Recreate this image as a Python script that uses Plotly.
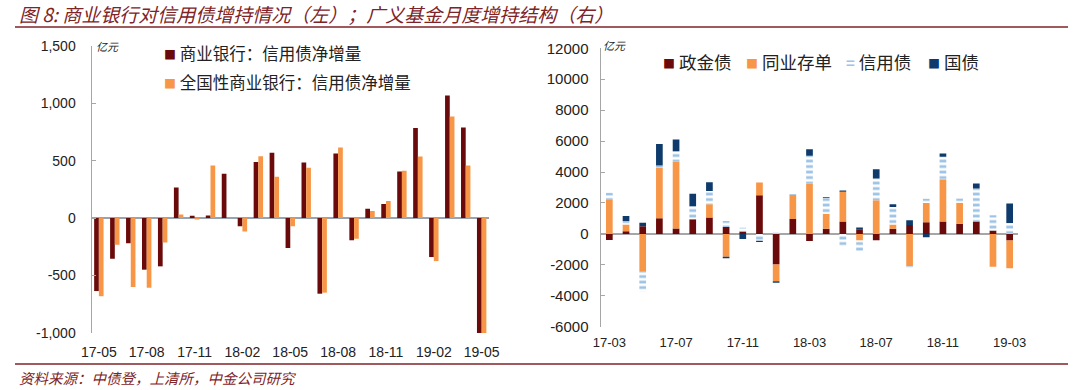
import plotly.graph_objects as go

W, H = 1080, 390

# ---------------- data: left chart (亿元) ----------------
left_months = ["17-05", "17-06", "17-07", "17-08", "17-09", "17-10", "17-11", "17-12",
               "18-01", "18-02", "18-03", "18-04", "18-05", "18-06", "18-07", "18-08",
               "18-09", "18-10", "18-11", "18-12", "19-01", "19-02", "19-03", "19-04", "19-05"]
left_tick_labels = ["17-05", "17-08", "17-11", "18-02", "18-05", "18-08", "18-11", "19-02", "19-05"]
bank_credit_net = [-635, -354, -220, -449, -420, 267, 20, 23, 386, -72, 487, 568, -260,
                   484, -658, 562, -194, 81, 122, 406, 783, -339, 1067, 788, -1030]
national_bank_credit_net = [-680, -232, -600, -606, -212, 32, -12, 458, 0, -116, 539, 359, -72,
                            438, -649, 614, -180, 61, 148, 412, 536, -374, 884, 458, -1020]
left_y_vals = [-1000, -500, 0, 500, 1000, 1500]
left_y_text = ["-1,000", "-500", "0", "500", "1,000", "1,500"]

# ---------------- data: right chart (亿元) ----------------
right_months = ["17-03", "17-04", "17-05", "17-06", "17-07", "17-08", "17-09", "17-10",
                "17-11", "17-12", "18-01", "18-02", "18-03", "18-04", "18-05", "18-06",
                "18-07", "18-08", "18-09", "18-10", "18-11", "18-12", "19-01", "19-02", "19-03"]
right_tick_labels = ["17-03", "17-07", "17-11", "18-03", "18-07", "18-11", "19-03"]
policy_bank_bonds = [-390, 170, 500, 1010, 345, 950, 1060, 450, 150, 2500, -1980, 970, -455,
                     325, 800, 300, -410, 325, 580, 755, 800, 650, 800, 215, -430]
ncd = [2244, 430, -2400, 3260, 4315, 0, 860, -1470, 0, 820, -1085, 1560, 3260,
       970, 1920, -430, 2180, 280, -2090, 1250, 2740, 1360, 0, -2120, -1790]
credit_bonds = [410, 240, -1300, 150, 690, 840, 860, 390, 250, -450, 70, 50, 1790,
                1035, -780, -750, 1400, 1140, -150, 260, 1445, 280, 2135, 990, 710]
treasury = [0, 325, 216, 1400, 755, 800, 560, -110, -330, -80, -90, 0, 430,
            50, 85, 110, 600, 170, 300, -220, 215, 0, 325, 0, 1250]
right_y_vals = [-6000, -4000, -2000, 0, 2000, 4000, 6000, 8000, 10000, 12000]
right_y_text = ["-6000", "-4000", "-2000", "0", "2000", "4000", "6000", "8000", "10000", "12000"]

# ---------------- styles ----------------
DARK = "#6B0A0A"
ORANGE = "#F79646"
LIGHTBLUE = "#9DC3E6"
NAVY = "#0E3B6B"
TITLE_RED = "#7E2327"
AXIS_GREY = "#A6A6A6"
CJK = "Noto Sans CJK SC"
NUM = "Liberation Sans, Arial, sans-serif"


def px(x):
    return x / W


def py(y):
    return 1 - y / H


def relative_bases(series_list):
    n = len(series_list[0])
    pos = [0] * n
    neg = [0] * n
    out = []
    for s in series_list:
        b = []
        for i, v in enumerate(s):
            if v >= 0:
                b.append(pos[i])
                pos[i] += v
            else:
                b.append(neg[i])
                neg[i] += v
        out.append(b)
    return out


fig = go.Figure()

# left chart: grouped bars
fig.add_trace(go.Bar(x=left_months, y=bank_credit_net, name="商业银行：信用债净增量",
                     marker=dict(color=DARK, line=dict(width=0)), offsetgroup="a",
                     xaxis="x", yaxis="y", showlegend=False))
fig.add_trace(go.Bar(x=left_months, y=national_bank_credit_net, name="全国性商业银行：信用债净增量",
                     marker=dict(color=ORANGE, line=dict(width=0)), offsetgroup="b",
                     xaxis="x", yaxis="y", showlegend=False))

# right chart: relative stacked bars
right_series = [policy_bank_bonds, ncd, credit_bonds, treasury]
right_names = ["政金债", "同业存单", "信用债", "国债"]
bases = relative_bases(right_series)
for s, nm, b in zip(right_series, right_names, bases):
    if nm == "信用债":
        marker = dict(color=LIGHTBLUE, line=dict(width=0),
                      pattern=dict(shape="-", fgcolor=LIGHTBLUE, bgcolor="#FFFFFF",
                                   size=5.5, solidity=0.5, fillmode="replace"))
    else:
        color = {"政金债": DARK, "同业存单": ORANGE, "国债": NAVY}[nm]
        marker = dict(color=color, line=dict(width=0))
    fig.add_trace(go.Bar(x=right_months, y=s, base=b, name=nm, marker=marker,
                         offsetgroup="r", width=0.4, offset=-0.2,
                         xaxis="x2", yaxis="y2", showlegend=False))

axis_common = dict(showgrid=False, fixedrange=True, automargin=False)

fig.update_layout(
    template="none",
    width=W, height=H, autosize=False,
    margin=dict(l=0, r=0, t=0, b=0, pad=0, autoexpand=False),
    paper_bgcolor="white", plot_bgcolor="white",
    showlegend=False,
    barmode="group", bargap=0.41, bargroupgap=0,
    font=dict(family=NUM, color="#222222"),
    xaxis=dict(domain=[px(92), px(489)], type="category", range=[-0.43, 24.46],
               tickmode="array", tickvals=left_tick_labels, ticktext=left_tick_labels,
               showline=False, ticks="", zeroline=False, ticklabelstandoff=9,
               tickfont=dict(family=NUM, size=14, color="#222222"), anchor="y", **axis_common),
    yaxis=dict(domain=[py(333), py(45.7)], range=[-1000, 1500],
               tickmode="array", tickvals=left_y_vals, ticktext=left_y_text,
               showline=True, linecolor=AXIS_GREY, linewidth=1.5,
               ticks="inside", ticklen=4, tickcolor=AXIS_GREY, ticklabelstandoff=12,
               zeroline=True, zerolinecolor="#97A3B0", zerolinewidth=1.5,
               tickfont=dict(family=NUM, size=14, color="#222222"), anchor="x", **axis_common),
    xaxis2=dict(domain=[px(601), px(1018)], type="category", range=[-0.5, 24.5],
                tickmode="array", tickvals=right_tick_labels, ticktext=right_tick_labels,
                showline=False, ticks="", zeroline=False, ticklabelstandoff=6,
                tickfont=dict(family=NUM, size=13, color="#222222"), anchor="y2", **axis_common),
    yaxis2=dict(domain=[py(326.7), py(48.3)], range=[-6000, 12000],
                tickmode="array", tickvals=right_y_vals, ticktext=right_y_text,
                showline=True, linecolor=AXIS_GREY, linewidth=1.5,
                ticks="inside", ticklen=4, tickcolor=AXIS_GREY, ticklabelstandoff=8,
                zeroline=True, zerolinecolor=AXIS_GREY, zerolinewidth=1.5,
                tickfont=dict(family=NUM, size=15, color="#222222"), anchor="x2", **axis_common),
)

annotations = []


def add_text(text, x, y, size, color="#222222", family=CJK, xanchor="left", italic=False):
    annotations.append(dict(
        text=("<i>" + text + "</i>") if italic else text,
        x=px(x), y=py(y), xref="paper", yref="paper",
        xanchor=xanchor, yanchor="middle", showarrow=False, borderpad=0,
        font=dict(family=family, size=size, color=color)))


# title & source
add_text("图 8: 商业银行对信用债增持情况（左）；广义基金月度增持结构（右）", 18, 14, 19,
         color=TITLE_RED, italic=True)
add_text("资料来源：中债登，上清所，中金公司研究", 18, 377, 14.5, color=TITLE_RED, italic=True)

# unit labels
add_text("亿元", 95, 46, 11, italic=True)
add_text("亿元", 602, 45, 11, italic=True)

# left legend
sq = "<span style='font-size:12px;color:{c}'>■</span>"
add_text(sq.format(c=DARK) + " 商业银行：信用债净增量", 163, 53, 16.5)
add_text(sq.format(c=ORANGE) + " 全国性商业银行：信用债净增量", 163, 82, 16.5)

# right legend
add_text(sq.format(c=DARK) + " 政金债", 662, 61, 17.5)
add_text(sq.format(c=ORANGE) + " 同业存单", 745, 61, 17.5)
add_text("<span style='font-size:15px;color:" + LIGHTBLUE + "'><b>=</b></span> 信用债", 845, 61, 17.5)
add_text(sq.format(c=NAVY) + " 国债", 927, 61, 17.5)

fig.update_layout(annotations=annotations)

fig.update_layout(shapes=[
    dict(type="line", xref="paper", yref="paper", x0=px(15), x1=px(1068), y0=py(27), y1=py(27),
         line=dict(color=TITLE_RED, width=1.5)),
    dict(type="line", xref="paper", yref="paper", x0=px(15), x1=px(1068), y0=py(364), y1=py(364),
         line=dict(color=TITLE_RED, width=1.5)),
])

fig.write_html("out.html",
               config={"displayModeBar": False, "staticPlot": True},
               post_script="document.body.style.margin='0px';document.body.style.padding='0px';")
